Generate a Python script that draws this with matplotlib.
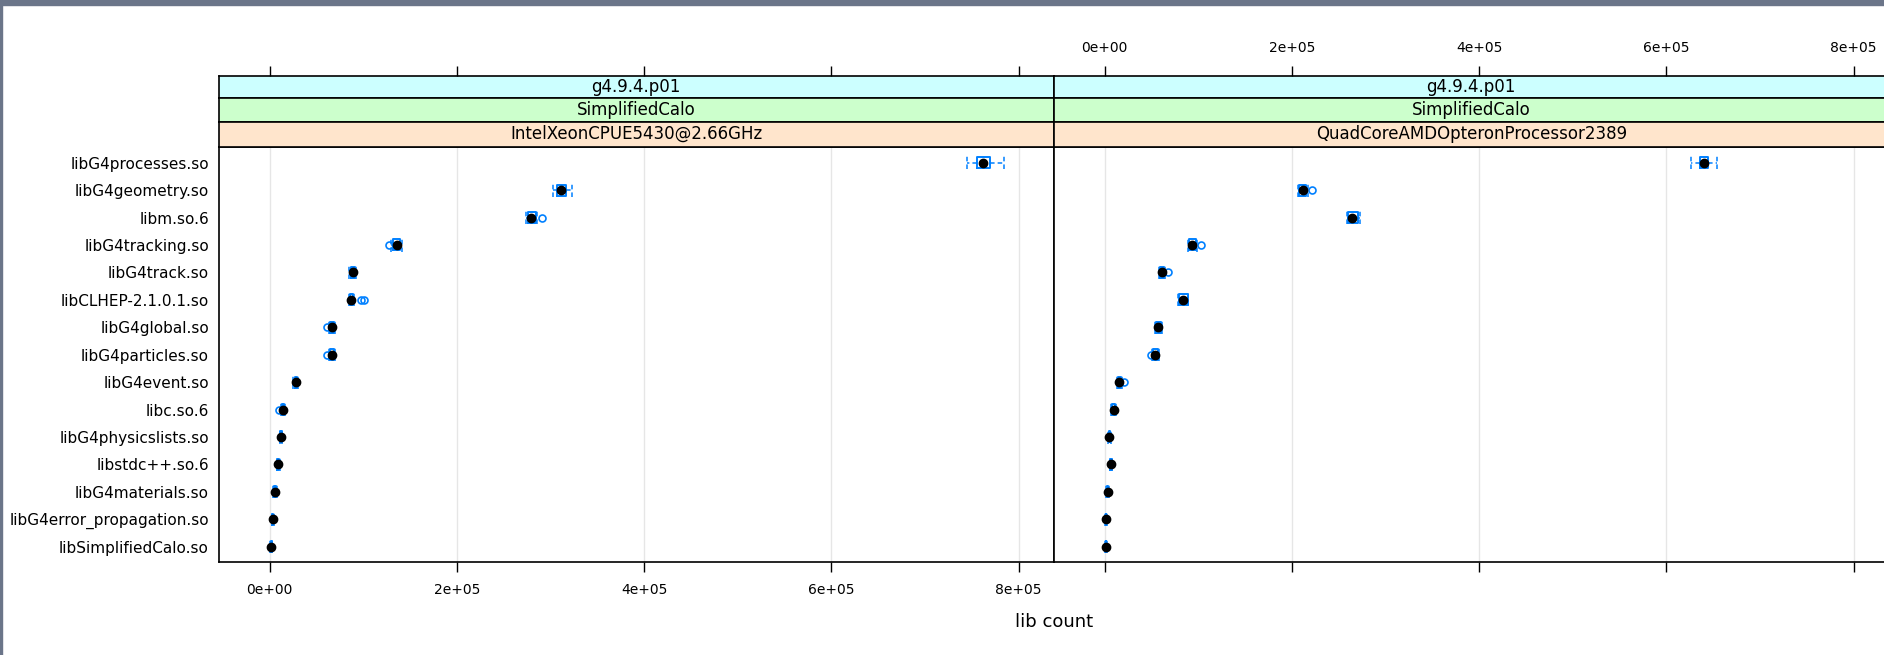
import matplotlib
matplotlib.use("Agg")
import matplotlib.pyplot as plt
from matplotlib.patches import Rectangle

# --- data ---
libs = ["libG4processes.so", "libG4geometry.so", "libm.so.6", "libG4tracking.so",
        "libG4track.so", "libCLHEP-2.1.0.1.so", "libG4global.so", "libG4particles.so",
        "libG4event.so", "libc.so.6", "libG4physicslists.so", "libstdc++.so.6",
        "libG4materials.so", "libG4error_propagation.so", "libSimplifiedCalo.so"]
version = "g4.9.4.p01"
app = "SimplifiedCalo"
cpus = ["IntelXeonCPUE5430@2.66GHz", "QuadCoreAMDOpteronProcessor2389"]

# box summaries per lib: lower whisker, q1, median, q3, upper whisker
intel_lo = [745000, 303000, 273500, 130000, 85000, 85000, 63500, 63500, 25000, 12000, 10500, 7500, 3500, 2200, 600]
intel_q1 = [756000, 306500, 275500, 132000, 86500, 86000, 64500, 64500, 26500, 13000, 11300, 8300, 4500, 2800, 1200]
intel_med = [761500, 311000, 279500, 136500, 89000, 87000, 66500, 66500, 27700, 14100, 12000, 9200, 5600, 3400, 1700]
intel_q3 = [769500, 316000, 284000, 139500, 91000, 89000, 68500, 68500, 29000, 15500, 12800, 10000, 6500, 4000, 2300]
intel_hi = [784000, 322500, 286000, 141000, 92500, 90000, 70000, 70000, 30000, 16500, 13500, 11000, 7500, 4500, 2800]
intel_out = [[], [], [291000], [127500], [], [97500, 101000], [61500], [61500],
             [], [10000], [], [], [], [], []]

amd_lo = [626000, 206000, 259000, 89500, 58000, 78000, 53500, 51000, 13000, 7000, 3500, 5200, 1800, 400, 400]
amd_q1 = [636000, 207500, 260000, 90500, 59000, 79000, 54500, 52000, 14000, 8000, 4200, 6000, 2400, 900, 900]
amd_med = [640000, 212000, 263700, 93400, 61300, 83400, 57400, 53800, 15600, 9500, 4900, 6700, 3100, 1400, 1400]
amd_q3 = [644500, 215500, 271000, 97500, 63500, 88500, 60000, 56500, 17500, 11000, 5600, 7500, 3800, 1900, 1900]
amd_hi = [654500, 217000, 273000, 98500, 64500, 89500, 61000, 57500, 18500, 12000, 6200, 8200, 4500, 2400, 2400]
amd_out = [[], [221000], [], [102500], [67300], [], [], [49500],
           [20200], [], [], [], [], [], []]

xticks = [0, 200000, 400000, 600000, 800000]
xticklabels = ["0e+00", "2e+05", "4e+05", "6e+05", "8e+05"]

# --- layout (pixels) ---
W, H = 1884, 655
BLUE = "#0080ff"
fig = plt.figure(figsize=(W / 100, H / 100), dpi=100)
fig.patch.set_facecolor("white")

panel_x = [218.7, 1053.7]
panel_w = 835.0
plot_top, plot_bot = 146.5, 562.0
strip_edges = [76.0, 98.3, 121.7, 146.5]
strip_cols = ["#ccffff", "#ccffcc", "#ffe5cc"]
xlim = (-54500, 837500)
n = len(libs)
pos = [n - i for i in range(n)]


def fig_rect(x0, y_top, w, y_bot):
    return [x0 / W, 1 - y_bot / H, w / W, (y_bot - y_top) / H]


panels = [
    (cpus[0], intel_lo, intel_q1, intel_med, intel_q3, intel_hi, intel_out),
    (cpus[1], amd_lo, amd_q1, amd_med, amd_q3, amd_hi, amd_out),
]

for k, (cpu, lo, q1, med, q3, hi, out) in enumerate(panels):
    ax = fig.add_axes(fig_rect(panel_x[k], plot_top, panel_w, plot_bot))
    ax.set_xlim(*xlim)
    ax.set_ylim(0.44, n + 0.59)
    for t in xticks:
        ax.axvline(t, color="#e6e6e6", lw=1, zorder=0)

    stats = [dict(whislo=lo[i], q1=q1[i], med=med[i], q3=q3[i], whishi=hi[i],
                  fliers=out[i]) for i in range(n)]
    ax.bxp(stats, positions=pos, orientation="horizontal", widths=0.4,
           capwidths=0.48, showfliers=True, manage_ticks=False,
           boxprops=dict(color=BLUE, lw=1.4),
           whiskerprops=dict(color=BLUE, lw=1.1, ls=(0, (3, 2))),
           capprops=dict(color=BLUE, lw=1.1, ls=(0, (3, 2))),
           medianprops=dict(lw=0),
           flierprops=dict(marker="o", mfc="none", mec=BLUE, ms=5, mew=1.2))
    ax.plot(med, pos, "o", color="black", ms=6, zorder=5)

    ax.set_yticks(pos)
    if k == 0:
        ax.set_yticklabels(libs, fontsize=11)
    else:
        ax.set_yticklabels([])
    ax.tick_params(axis="y", length=0, pad=7)
    ax.set_xticks(xticks)
    ax.set_xticklabels(xticklabels if k == 0 else [], fontsize=10)
    ax.tick_params(axis="x", direction="out", length=7.2, width=1, pad=8)
    for s in ax.spines.values():
        s.set_linewidth(1.2)

    labels = [version, app, cpu]
    for j in range(3):
        sax = fig.add_axes(fig_rect(panel_x[k], strip_edges[j], panel_w,
                                    strip_edges[j + 1]))
        sax.set_facecolor(strip_cols[j])
        sax.set_xlim(*xlim)
        sax.set_ylim(0, 1)
        sax.set_yticks([])
        for s in sax.spines.values():
            s.set_linewidth(1.2)
        if j == 0:
            sax.xaxis.tick_top()
            sax.set_xticks(xticks)
            sax.set_xticklabels(xticklabels if k == 1 else [], fontsize=10)
            sax.tick_params(axis="x", direction="out", length=7.2, width=1, pad=8)
        else:
            sax.set_xticks([])
        sax.text(0.5, 0.5, labels[j], transform=sax.transAxes, ha="center",
                 va="center", fontsize=12)

fig.text((panel_x[0] + panel_x[1] + panel_w) / 2 / W, 1 - 622 / H, "lib count",
         ha="center", va="center", fontsize=13)

# screenshot frame at top and left
fig.patches.append(Rectangle((0, 1 - 5 / H), 1, 5 / H, transform=fig.transFigure,
                             color="#6b7589", zorder=10))
fig.patches.append(Rectangle((0, 0), 2 / W, 1, transform=fig.transFigure,
                             color="#6b7589", zorder=10))

fig.savefig("out.png", dpi=100)
